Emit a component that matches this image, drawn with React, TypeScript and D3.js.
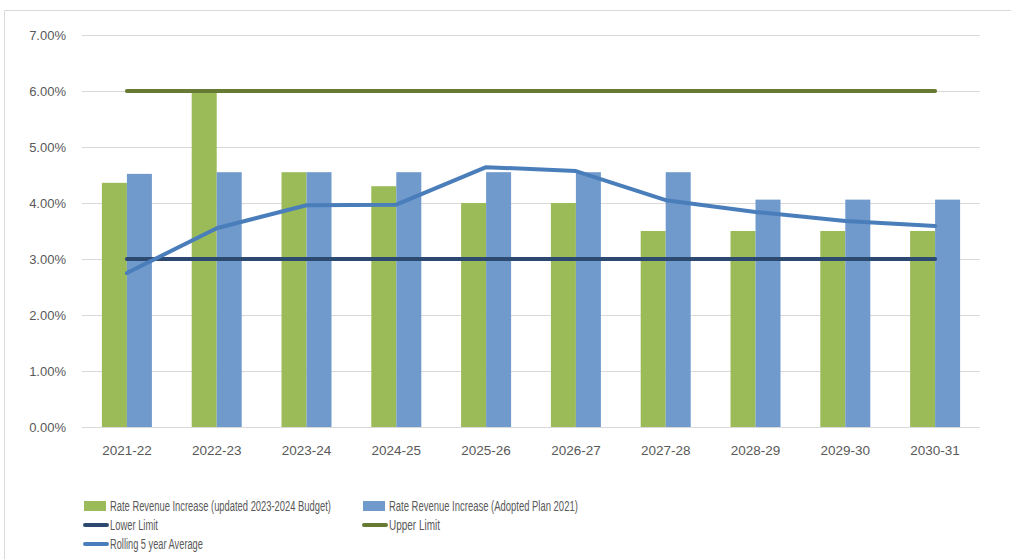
import { useEffect, useRef } from 'react';
import * as d3 from 'd3';

const categories = ['2021-22', '2022-23', '2023-24', '2024-25', '2025-26', '2026-27', '2027-28', '2028-29', '2029-30', '2030-31'];
const updatedBudget = [4.36, 6.0, 4.55, 4.3, 4.0, 4.0, 3.5, 3.5, 3.5, 3.5];
const adoptedPlan = [4.52, 4.55, 4.55, 4.55, 4.55, 4.55, 4.55, 4.06, 4.06, 4.06];
const lowerLimit = [3, 3, 3, 3, 3, 3, 3, 3, 3, 3];
const upperLimit = [6, 6, 6, 6, 6, 6, 6, 6, 6, 6];
const rollingAvg = [2.75, 3.55, 3.96, 3.97, 4.64, 4.57, 4.05, 3.84, 3.68, 3.59];
const yTicks = [0, 1, 2, 3, 4, 5, 6, 7];

const GREEN = '#9bbb59';
const BLUE = '#7099cc';
const LOWER = '#2c4a70';
const UPPER = '#677a33';
const ROLL = '#4a7ebb';
const FONT = '"Liberation Sans", Arial, sans-serif';

export default function App() {
  const svgRef = useRef<SVGSVGElement>(null);

  useEffect(() => {
    if (!svgRef.current) return;
    const svg = d3.select(svgRef.current);
    svg.selectAll('*').remove();

    const left = 82, right = 980, top = 35, bottom = 427;

    // marco del gráfico
    svg.append('path')
      .attr('d', `M4.5,570 V10.5 H1020`)
      .attr('fill', 'none')
      .attr('stroke', '#d9d9d9')
      .attr('stroke-width', 1);

    const y = d3.scaleLinear().domain([0, 7]).range([bottom, top]);
    const x = d3.scaleBand<string>().domain(categories).range([left, right]);
    const inner = d3.scaleBand<string>().domain(['a', 'b']).range([0, 50]);
    const off = (x.bandwidth() - 50) / 2;
    const cx = (c: string) => (x(c) as number) + x.bandwidth() / 2;

    // grilla
    svg.append('g').selectAll('line')
      .data(yTicks)
      .join('line')
      .attr('x1', left).attr('x2', right)
      .attr('y1', d => Math.round(y(d)) + 0.5).attr('y2', d => Math.round(y(d)) + 0.5)
      .attr('stroke', '#d9d9d9').attr('stroke-width', 1);

    svg.append('g').selectAll('text')
      .data(yTicks)
      .join('text')
      .attr('x', 66).attr('y', d => y(d))
      .attr('text-anchor', 'end').attr('dominant-baseline', 'central')
      .attr('font-family', FONT).attr('font-size', 13).attr('fill', '#595959')
      .text(d => d3.format('.2f')(d) + '%');

    // barras
    const bars = svg.append('g');
    bars.selectAll('rect.g')
      .data(categories)
      .join('rect')
      .attr('x', c => (x(c) as number) + off + (inner('a') as number))
      .attr('width', inner.bandwidth())
      .attr('y', (c, i) => y(updatedBudget[i]))
      .attr('height', (c, i) => bottom - y(updatedBudget[i]))
      .attr('fill', GREEN);
    bars.selectAll('rect.b')
      .data(categories)
      .join('rect')
      .attr('x', c => (x(c) as number) + off + (inner('b') as number))
      .attr('width', inner.bandwidth())
      .attr('y', (c, i) => y(adoptedPlan[i]))
      .attr('height', (c, i) => bottom - y(adoptedPlan[i]))
      .attr('fill', BLUE);

    // líneas
    const line = d3.line<number>()
      .x((d, i) => cx(categories[i]))
      .y(d => y(d));
    const series: [number[], string][] = [[lowerLimit, LOWER], [upperLimit, UPPER], [rollingAvg, ROLL]];
    series.forEach(([vals, color]) => {
      svg.append('path')
        .attr('d', line(vals))
        .attr('fill', 'none')
        .attr('stroke', color)
        .attr('stroke-width', 4)
        .attr('stroke-linecap', 'round')
        .attr('stroke-linejoin', 'round');
    });

    // etiquetas eje x
    svg.append('g').selectAll('text')
      .data(categories)
      .join('text')
      .attr('x', c => cx(c)).attr('y', 450)
      .attr('text-anchor', 'middle').attr('dominant-baseline', 'central')
      .attr('font-family', FONT).attr('font-size', 13.5).attr('fill', '#595959')
      .text(c => c);

    // leyenda (texto angosto como Calibri: se escala horizontalmente)
    const legend = [
      { label: 'Rate Revenue Increase (updated 2023-2024 Budget)', color: GREEN, kind: 'bar', lx: 84, ly: 506, w: 221 },
      { label: 'Rate Revenue Increase (Adopted Plan 2021)', color: BLUE, kind: 'bar', lx: 363, ly: 506, w: 189 },
      { label: 'Lower Limit', color: LOWER, kind: 'line', lx: 84, ly: 525, w: 48 },
      { label: 'Upper Limit', color: UPPER, kind: 'line', lx: 363, ly: 525, w: 51 },
      { label: 'Rolling 5 year Average', color: ROLL, kind: 'line', lx: 84, ly: 544, w: 93 },
    ];
    const lg = svg.append('g');
    legend.forEach(it => {
      if (it.kind === 'bar') {
        lg.append('rect').attr('x', it.lx).attr('y', it.ly - 5).attr('width', 22).attr('height', 10).attr('fill', it.color);
      } else {
        lg.append('line').attr('x1', it.lx + 1).attr('x2', it.lx + 23).attr('y1', it.ly).attr('y2', it.ly)
          .attr('stroke', it.color).attr('stroke-width', 4).attr('stroke-linecap', 'round');
      }
      const g = lg.append('g');
      const t = g.append('text')
        .attr('x', 0).attr('y', 0)
        .attr('dominant-baseline', 'central')
        .attr('font-family', FONT).attr('font-size', 15).attr('fill', '#595959')
        .text(it.label);
      const natural = (t.node() as SVGTextElement).getComputedTextLength() || it.w;
      g.attr('transform', `translate(${it.lx + 26},${it.ly}) scale(${it.w / natural},1)`);
    });
  }, []);

  return (
    <svg
      ref={svgRef}
      width={1011}
      height={559}
      style={{ position: 'absolute', left: 0, top: 0, background: '#fff', display: 'block' }}
    />
  );
}
